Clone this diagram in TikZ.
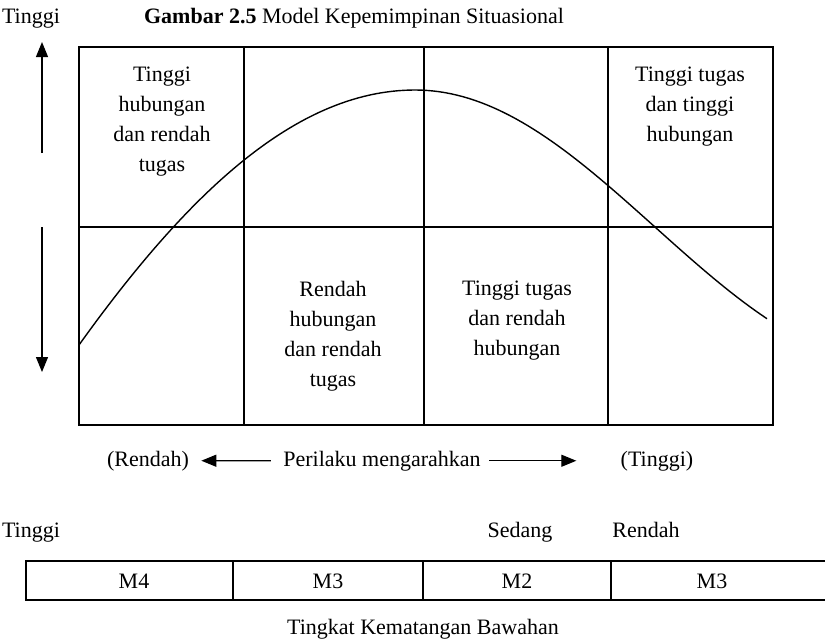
\documentclass[tikz,border=0pt]{standalone}
\usepackage{fontspec}
\setmainfont{Liberation Serif}
\usepackage{tikz}
\usetikzlibrary{arrows.meta,positioning}
\tikzset{>={Triangle[length=7.5pt,width=6pt]}}

\begin{document}
\begin{tikzpicture}[x=0.5pt, y=-0.5pt, font=\fontsize{11}{15}\selectfont,
  frame/.style={line width=1pt},
  arrowline/.style={->, line width=0.6pt},
  txt/.style={align=center, inner sep=0pt},
  lbl/.style={inner sep=0pt, anchor=base}]
  \useasboundingbox (0,0) rectangle (825,643);

  % Heading
  \node[lbl] (highV) at (31,23) {Tinggi};
  \node[lbl] (title) at (354,23) {\textbf{Gambar 2.5} Model Kepemimpinan Situasional};

  % Grid
  \draw[frame] (79,47) rectangle (773,425);
  \draw[frame] (79,227) -- (773,227);
  \foreach \x in {244,424,608} \draw[frame] (\x,47) -- (\x,425);

  % Cells
  \node[txt] (q1) at (162,122) {Tinggi\\hubungan\\dan rendah\\tugas};
  \node[txt] (q2) at (690,107) {Tinggi tugas\\dan tinggi\\hubungan};
  \node[txt] (q3) at (333,336) {Rendah\\hubungan\\dan rendah\\tugas};
  \node[txt] (q4) at (517,321) {Tinggi tugas\\dan rendah\\hubungan};

  % Vertical arrows
  \coordinate (upA) at (42,153);
  \coordinate (upB) at (42,42);
  \coordinate (dnA) at (42,227);
  \coordinate (dnB) at (42,372);
  \draw[arrowline] (upA) -- (upB);
  \draw[arrowline] (dnA) -- (dnB);

  % Curve
  \draw[line width=0.7pt] plot[domain=79:415,samples=60] (\x,{90+582*(1-cos(deg(0.002905*(\x-415))))})
    -- plot[domain=415:767,samples=60] (\x,{90+137*(1-cos(deg(0.00654*(\x-415))))});

  % Directing behaviour axis
  \node[lbl] (lowD) at (148,466) {(Rendah)};
  \node[lbl] (dir) at (382,466) {Perilaku mengarahkan};
  \node[lbl] (highD) at (657,466) {(Tinggi)};
  \draw[arrowline] ([xshift=-6pt]dir.west) -- ([xshift=6pt]lowD.east);
  \draw[arrowline] ([xshift=4pt]dir.east) -- ([xshift=-22pt]highD.west);

  % Maturity table
  \node[lbl] (mHigh) at (31,537) {Tinggi};
  \node[lbl] (mMid) at (520,537) {Sedang};
  \node[lbl] (mLow) at (646,537) {Rendah};
  \draw[frame] (825,561) -- (26,561) -- (26,600) -- (825,600);
  \foreach \x in {233,423,611} \draw[frame] (\x,561) -- (\x,600);
  \node[lbl] (m4) at (134,588) {M4};
  \node[lbl] (m3a) at (328,588) {M3};
  \node[lbl] (m2) at (517,588) {M2};
  \node[lbl] (m3b) at (712,588) {M3};
  \node[lbl] (scale) at (423,634) {Tingkat Kematangan Bawahan};
\end{tikzpicture}
\end{document}
